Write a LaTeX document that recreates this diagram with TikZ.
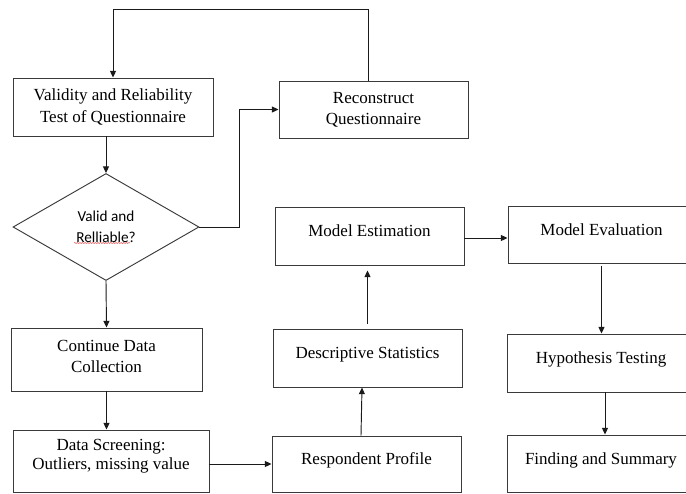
\documentclass[tikz,border=0pt]{standalone}
\usepackage{fontspec}
\setmainfont{Liberation Serif}
\newfontfamily\calibrifont{Carlito}
\usepackage{tikz}
\usepackage{xcolor}
\usetikzlibrary{arrows.meta,positioning,shapes.geometric,calc,decorations.pathmorphing}
\definecolor{ink}    {HTML}{1A1A1A}
\definecolor{boxgray}{HTML}{3A3A3A}
\definecolor{spellred}{HTML}{E02020}
\tikzset{
  flowbox/.style ={draw=boxgray, fill=white, line width=0.8pt,
                   minimum width=5.67cm, minimum height=1.74cm,
                   align=center, inner sep=3pt,
                   font=\fontsize{14.5}{18}\selectfont},
  decbox/.style  ={draw=boxgray, fill=white, line width=0.8pt, diamond,
                   minimum width=5.58cm, minimum height=3.21cm, inner sep=0pt,
                   align=center, font=\calibrifont\fontsize{13}{18}\selectfont},
  flowarr/.style ={-{Triangle[length=2mm,width=1.8mm]}, line width=0.8pt, color=ink},
  squiggle/.style={draw=spellred, line width=0.4pt,
                   decorate, decoration={snake, amplitude=0.35pt, segment length=2.2pt}},
}
\begin{document}
\begin{tikzpicture}[x=0.03cm,y=-0.03cm]
  \clip (0,0) rectangle (686,493);

  \node[flowbox,minimum width=6.0cm] (valid) at (113,107)
    {Validity and Reliability\\Test of Questionnaire};
  \node[flowbox,minimum height=1.71cm] (recon) at (373.5,109.5)
    {Reconstruct\\Questionnaire};
  \node[decbox] (dec) at (106,227) {Valid and\\Relliable?};
  \node[flowbox,minimum width=5.73cm,minimum height=1.89cm,text depth=6pt] (contd) at (106.5,359.5)
    {Continue Data\\Collection};
  \node[flowbox,minimum width=5.88cm,minimum height=1.86cm,text depth=11pt,
        font=\fontsize{14.5}{15.8}\selectfont] (screen) at (111,461)
    {Data Screening:\\Outliers, missing value};
  \node[flowbox,minimum height=1.68cm,text depth=9pt] (resp) at (366.5,464) {Respondent Profile};
  \node[flowbox,text depth=9pt] (desc) at (367.5,358) {Descriptive Statistics};
  \node[flowbox,text depth=10pt] (mest) at (369.5,236) {Model Estimation};
  \node[flowbox,minimum width=5.61cm,minimum height=1.71cm,text depth=9pt] (meval) at (601.5,234.5) {Model Evaluation};
  \node[flowbox,minimum width=5.64cm,text depth=10pt] (hyp) at (601,363) {Hypothesis Testing};
  \node[flowbox,minimum width=5.64cm,minimum height=1.71cm,text depth=9pt] (find) at (601,463.5) {Finding and Summary};

  % spell-check mark under the second line of the diamond
  \draw[squiggle] ($(dec.center)+(-32,16)$) -- ($(dec.center)+(24,16)$);

  % loop back from the rebuilt questionnaire
  \coordinate (looptop) at (368,9.5);
  \draw[flowarr] (recon.north -| looptop) -- (looptop) -| (valid.north);

  \draw[flowarr] (valid.south -| dec.north) -- (dec.north);
  \draw[flowarr] (dec.east) -- ++(40,0) |- (recon.west);
  \draw[flowarr] (dec.south) -- (contd.north);
  \draw[flowarr] (contd.south) -- (contd.south |- screen.north);
  \draw[flowarr] (screen.east |- resp.west) -- (resp.west);
  \draw[flowarr] ([xshift=-0.165cm]resp.north) -- ([xshift=-0.165cm]desc.south);
  \draw[flowarr,shorten <=0.15cm,shorten >=0.15cm] (desc.north) -- (desc.north |- mest.south);
  \draw[flowarr] ([yshift=-0.06cm]mest.east) -- ([yshift=-0.06cm]mest.east -| meval.west);
  \draw[flowarr,shorten <=0.09cm] (meval.south) -- (meval.south |- hyp.north);
  \draw[flowarr] ([xshift=0.12cm]hyp.south) -- ([xshift=0.12cm]hyp.south |- find.north);
\end{tikzpicture}
\end{document}
